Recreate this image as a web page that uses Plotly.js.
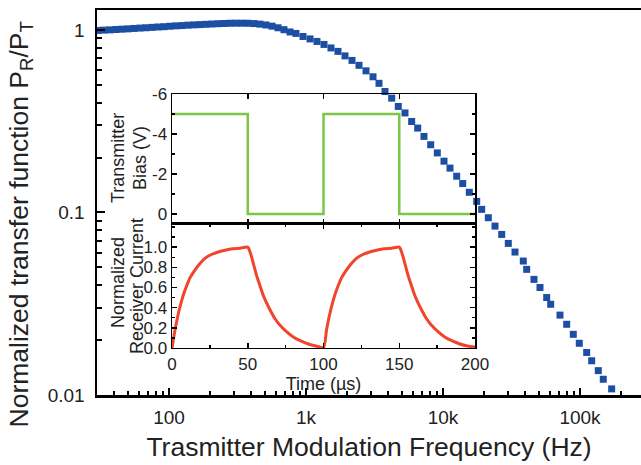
<!DOCTYPE html>
<html>
<head>
<meta charset="utf-8">
<script src="https://cdn.plot.ly/plotly-3.0.1.min.js"></script>
<style>html,body{margin:0;padding:0;background:#fff;}#chart{width:641px;height:465px;}</style>
</head>
<body>
<div id="chart"></div>
<script>
// Main plot: transfer function vs modulation frequency
const freqHz = [30.3,33.5,37.1,41.0,45.4,50.2,55.5,61.4,67.9,75.1,83.1,91.9,101.7,112.5,124.4,137.6,152.2,168.4,186.3,206.0,227.9,252.1,278.8,308.4,341.1,377.3,417.3,461.6,510.6,564.8,624.7,691.0,764.3,
  845,951,1070,1203,1353,1522,1712,1926,2167,2437,2742,3084,3411,
  3773,4222,4718,5279,5908,6537,7265,8132,9087,10170,11250,12590,13930,15560,17620,19160,21420,23970,26830,29970,33540,38560,40820,46150,51050,57130,61110,71450,79960,89340,98830,111900,121700,136000,147900,170300];
const transfer = [0.994,0.998,1.001,1.006,1.010,1.014,1.019,1.024,1.028,1.033,1.038,1.042,1.048,1.053,1.057,1.062,1.066,1.070,1.074,1.078,1.082,1.085,1.088,1.089,1.089,1.088,1.084,1.076,1.065,1.049,1.028,1.003,0.975,
  0.957,0.921,0.893,0.865,0.833,0.797,0.763,0.721,0.681,0.640,0.597,0.554,0.510,
  0.460,0.423,0.381,0.351,0.315,0.290,0.261,0.235,0.212,0.191,0.175,0.158,0.144,0.129,0.115,0.104,0.0936,0.0842,0.0758,0.0677,0.0607,0.0542,0.0488,0.0430,0.0388,0.0342,0.0314,0.0274,0.0244,0.0215,0.0192,0.0171,0.0154,0.0136,0.0122,0.0108];

const freqTickVals = [100,1000,10000,100000];
const freqTickText = ['100','1k','10k','100k'];
const freqMinorVals = [40,50,60,70,80,90,200,300,400,500,600,700,800,900,2000,3000,4000,5000,6000,7000,8000,9000,20000,30000,40000,50000,60000,70000,80000,90000,200000];
const transTickVals = [0.01,0.1,1];
const transTickText = ['0.01','0.1','1'];
const transMinorVals = [0.02,0.03,0.04,0.05,0.06,0.07,0.08,0.09,0.2,0.3,0.4,0.5,0.6,0.7,0.8,0.9];

// Inset: transmitter bias square wave
const biasTime = [0,50,50,100,100,150,150,200];
const biasVolt = [-5,-5,0,0,-5,-5,0,0];
const biasTickVals = [0,-2,-4,-6];
const biasTickText = ['0','-2','-4','-6'];

// Inset: normalized receiver current
const timeUs = [0,2,4,6,8,10,12,15,18,21,25,30,35,40,45,50,52,54,56,58,60,62,65,68,71,75,80,85,90,95,100,
  102,104,106,108,110,112,115,118,121,125,130,135,140,145,150,152,154,156,158,160,162,165,168,171,175,180,185,190,195,200];
const current = [0,0.18,0.33,0.45,0.55,0.63,0.70,0.77,0.83,0.88,0.92,0.95,0.97,0.985,0.99,1.0,0.93,0.82,0.71,0.62,0.53,0.46,0.37,0.29,0.23,0.17,0.11,0.07,0.04,0.02,0.005,
  0.18,0.33,0.45,0.55,0.63,0.70,0.77,0.83,0.88,0.92,0.95,0.97,0.985,0.99,1.0,0.93,0.82,0.71,0.62,0.53,0.46,0.37,0.29,0.23,0.17,0.11,0.07,0.04,0.02,0.01];
const currTickVals = [0,0.2,0.4,0.6,0.8,1.0];
const currTickText = ['0.0','0.2','0.4','0.6','0.8','1.0'];

const FONT = 'Liberation Sans, Arial, Helvetica, sans-serif';
const TXT = '#222';
const X_RANGE = [1.4745, 5.4453];
const Y_RANGE = [-2, 0.1093];

const traces = [
  {x: freqHz, y: transfer, type: 'scatter', mode: 'markers', xaxis: 'x', yaxis: 'y',
   marker: {symbol: 'square', size: 7, color: '#1c4fa3'}},
  {x: biasTime, y: biasVolt, type: 'scatter', mode: 'lines', xaxis: 'x2', yaxis: 'y2',
   line: {color: '#7cc644', width: 2.5}},
  {x: timeUs, y: current, type: 'scatter', mode: 'lines', xaxis: 'x3', yaxis: 'y3',
   line: {color: '#f0452a', width: 3, shape: 'spline', smoothing: 0.6}},
  // empty traces that carry the minor-tick overlay axes
  {x: [], y: [], type: 'scatter', mode: 'markers', xaxis: 'x4', yaxis: 'y'},
  {x: [], y: [], type: 'scatter', mode: 'markers', xaxis: 'x', yaxis: 'y4'}
];

const insetAxis = {
  showline: true, linecolor: '#000', linewidth: 1.5, mirror: 'allticks',
  ticks: 'inside', ticklen: 5, tickwidth: 1.5, tickcolor: '#000',
  showgrid: false, zeroline: false,
  tickfont: {size: 17, color: TXT, family: FONT}
};

function rotLabel(text, x, y, size) {
  return {text: text, xref: 'paper', yref: 'paper', x: x, y: y,
          xanchor: 'center', yanchor: 'middle', textangle: -90, showarrow: false,
          font: {size: size, color: TXT, family: FONT}};
}

const layout = {
  width: 641, height: 465,
  margin: {l: 97, r: 0, t: 10, b: 70},
  paper_bgcolor: '#fff', plot_bgcolor: 'rgba(0,0,0,0)',
  showlegend: false,
  font: {family: FONT, color: TXT},
  xaxis: {
    type: 'log', range: X_RANGE,
    showline: true, linecolor: '#000', linewidth: 2.5, mirror: true,
    ticks: 'inside', ticklen: 7, tickwidth: 2, tickcolor: '#000',
    tickmode: 'array', tickvals: freqTickVals, ticktext: freqTickText,
    tickfont: {size: 19, color: TXT, family: FONT}, ticklabelstandoff: 4,
    showgrid: false, zeroline: false,
    title: {text: 'Trasmitter Modulation Frequency (Hz)', font: {size: 26.5, color: TXT, family: FONT}, standoff: 10}
  },
  xaxis4: {
    type: 'log', range: X_RANGE, overlaying: 'x', anchor: 'y', side: 'bottom',
    showline: false, ticks: 'inside', ticklen: 4, tickwidth: 2, tickcolor: '#000',
    tickmode: 'array', tickvals: freqMinorVals, showticklabels: false,
    showgrid: false, zeroline: false
  },
  yaxis: {
    type: 'log', range: Y_RANGE,
    showline: true, linecolor: '#000', linewidth: 2.5, mirror: false,
    ticks: 'inside', ticklen: 8, tickwidth: 2, tickcolor: '#000',
    tickmode: 'array', tickvals: transTickVals, ticktext: transTickText,
    tickfont: {size: 19, color: TXT, family: FONT}, ticklabelstandoff: 6,
    showgrid: false, zeroline: false
  },
  yaxis4: {
    type: 'log', range: Y_RANGE, overlaying: 'y', anchor: 'x', side: 'left',
    showline: false, ticks: 'inside', ticklen: 5, tickwidth: 2, tickcolor: '#000',
    tickmode: 'array', tickvals: transMinorVals, showticklabels: false,
    showgrid: false, zeroline: false
  },
  xaxis2: Object.assign({}, insetAxis, {
    anchor: 'y2', domain: [0.1379, 0.6949], range: [0, 200],
    tickmode: 'linear', tick0: 0, dtick: 50, showticklabels: false
  }),
  yaxis2: Object.assign({}, insetAxis, {
    anchor: 'x2', domain: [0.4442, 0.7818], range: [0.5, -6],
    tickmode: 'array', tickvals: biasTickVals, ticktext: biasTickText,
    minor: {ticks: 'inside', ticklen: 3, tickwidth: 1.5, tickcolor: '#000', tickmode: 'linear', tick0: 0, dtick: 1}
  }),
  xaxis3: Object.assign({}, insetAxis, {
    anchor: 'y3', domain: [0.1379, 0.6949], range: [0, 200],
    tickmode: 'linear', tick0: 0, dtick: 50,
    minor: {ticks: 'inside', ticklen: 3, tickwidth: 1.5, tickcolor: '#000', tickmode: 'linear', tick0: 0, dtick: 25},
    title: {text: 'Time (µs)', font: {size: 18, color: TXT, family: FONT}, standoff: 0}
  }),
  yaxis3: Object.assign({}, insetAxis, {
    anchor: 'x3', domain: [0.1221, 0.4442], range: [0, 1.23],
    tickmode: 'array', tickvals: currTickVals, ticktext: currTickText,
    minor: {ticks: 'inside', ticklen: 3, tickwidth: 1.5, tickcolor: '#000', tickmode: 'linear', tick0: 0, dtick: 0.1}
  }),
  annotations: [
    rotLabel('Normalized transfer function P<sub>R</sub>/P<sub>T</sub>', -0.1397, 0.443, 26.5),
    rotLabel('Transmitter', 0.0386, 0.6156, 18),
    rotLabel('Bias (V)', 0.0790, 0.6156, 18),
    rotLabel('Normalized', 0.0386, 0.2935, 18),
    rotLabel('Receiver Current', 0.0735, 0.2831, 18)
  ]
};

Plotly.newPlot('chart', traces, layout, {staticPlot: true, displayModeBar: false});
</script>
</body>
</html>
